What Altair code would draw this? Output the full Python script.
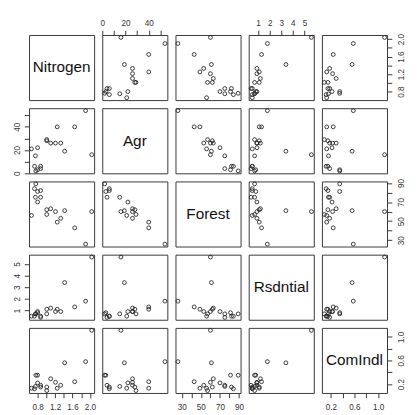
import altair as alt
import pandas as pd

# New York rivers (18 rivers)
rivers = ["Olean", "Cassadaga", "Oatka", "Wappinger", "Fishkill", "Honeoye",
          "Susquehanna", "Chenango", "Tioughnioga", "West Canada", "East Canada",
          "Saranac", "Ausable", "Black", "Schoharie", "Raquette", "Oswegatchie", "Cohocton"]
nitrogen = [1.10, 1.01, 1.90, 1.42, 2.04, 1.65, 1.01, 1.21, 1.33, 0.75, 0.73, 0.80, 0.76, 0.87, 0.80, 0.87, 0.66, 1.25]
agr = [26, 29, 54, 19, 16, 40, 28, 26, 26, 15, 6, 3, 2, 6, 22, 4, 21, 40]
forest = [63, 57, 26, 61, 60, 43, 62, 60, 53, 75, 84, 81, 89, 82, 70, 75, 56, 49]
rsdntial = [1.2, 0.7, 1.8, 3.4, 5.6, 1.3, 1.1, 0.9, 0.9, 0.7, 0.5, 0.8, 0.7, 0.5, 0.9, 0.4, 0.5, 1.1]
comindl = [0.29, 0.09, 0.58, 0.56, 1.11, 0.24, 0.15, 0.23, 0.18, 0.16, 0.12, 0.35, 0.35, 0.15, 0.22, 0.18, 0.13, 0.13]

variables = ["Nitrogen", "Agr", "Forest", "Rsdntial", "ComIndl"]

nitrogen_ticks = [0.8, 1.0, 1.2, 1.4, 1.6, 1.8, 2.0]
nitrogen_labels = ["0.8", "1.2", "1.6", "2.0"]
agr_ticks = [0, 10, 20, 30, 40, 50]
agr_labels = ["0", "20", "40"]
forest_ticks = [30, 40, 50, 60, 70, 80, 90]
forest_labels = ["30", "50", "70", "90"]
rsdntial_ticks = [1, 2, 3, 4, 5]
rsdntial_labels = ["1", "2", "3", "4", "5"]
comindl_ticks = [0.2, 0.4, 0.6, 0.8, 1.0]
comindl_labels = ["0.2", "0.6", "1.0"]

df = pd.DataFrame({"River": rivers, "Nitrogen": nitrogen, "Agr": agr, "Forest": forest,
                   "Rsdntial": rsdntial, "ComIndl": comindl})

ticks = {"Nitrogen": nitrogen_ticks, "Agr": agr_ticks, "Forest": forest_ticks,
         "Rsdntial": rsdntial_ticks, "ComIndl": comindl_ticks}
labels = {"Nitrogen": nitrogen_labels, "Agr": agr_labels, "Forest": forest_labels,
          "Rsdntial": rsdntial_labels, "ComIndl": comindl_labels}
fmts = {"Nitrogen": ".1f", "Agr": "d", "Forest": "d", "Rsdntial": "d", "ComIndl": ".1f"}


def domain(v):
    lo, hi = float(df[v].min()), float(df[v].max())
    r = hi - lo
    return [lo - 0.04 * r, hi + 0.04 * r]


P = 68
FONT = "Liberation Sans"


def make_axis(v, orient):
    lab_list = ",".join("'%s'" % s for s in labels[v])
    expr = "indexof([%s], datum.label) >= 0 ? datum.label : ''" % lab_list
    common = dict(orient=orient, values=ticks[v], format=fmts[v], labelExpr=expr,
                  domain=False, grid=False, ticks=True, tickSize=5, tickColor="#333",
                  tickWidth=1, labelFontSize=8.5, labelColor="#333", labelFont=FONT,
                  labelFlush=False, labelOverlap=False, title=None)
    if orient == "top":
        return alt.Axis(labelAngle=0, labelAlign="center", labelBaseline="bottom",
                        labelPadding=3, **common)
    if orient == "bottom":
        return alt.Axis(labelAngle=0, labelAlign="center", labelBaseline="top",
                        labelPadding=5, **common)
    if orient == "left":
        return alt.Axis(labelAngle=270, labelAlign="center", labelBaseline="bottom",
                        labelPadding=3, **common)
    return alt.Axis(labelAngle=270, labelAlign="center", labelBaseline="top",
                    labelPadding=5, **common)


panels = []
for i, yv in enumerate(variables):
    for j, xv in enumerate(variables):
        if i == 0 and j in (1, 3):
            xaxis = make_axis(xv, "top")
        elif i == 4 and j in (0, 2, 4):
            xaxis = make_axis(xv, "bottom")
        else:
            xaxis = None
        if j == 0 and i in (1, 3):
            yaxis = make_axis(yv, "left")
        elif j == 4 and i in (0, 2, 4):
            yaxis = make_axis(yv, "right")
        else:
            yaxis = None
        xenc = alt.X(xv, type="quantitative",
                     scale=alt.Scale(domain=domain(xv), nice=False, zero=False), axis=xaxis)
        yenc = alt.Y(yv, type="quantitative",
                     scale=alt.Scale(domain=domain(yv), nice=False, zero=False), axis=yaxis)
        if i == j:
            base = alt.Chart(df).mark_point(opacity=0).encode(x=xenc, y=yenc)
            lab = alt.Chart(pd.DataFrame({"name": [xv]})).mark_text(
                font=FONT, fontSize=16, color="#111", align="center", baseline="middle"
            ).encode(text="name:N", x=alt.value(P / 2), y=alt.value(P / 2))
            ch = alt.layer(base, lab).properties(width=P, height=P)
        else:
            ch = alt.Chart(df).mark_point(
                shape="circle", filled=False, size=16, strokeWidth=0.9, color="#222", opacity=1
            ).encode(x=xenc, y=yenc).properties(width=P, height=P)
        panels.append(ch)

chart = alt.concat(*panels, columns=5, spacing=8.5, bounds="flush").configure_view(
    stroke="#333", strokeWidth=1
).properties(
    padding={"left": 4, "top": 1, "right": 5, "bottom": 0},
    background="white"
)

chart.save("out.html", embed_options={"renderer": "svg", "actions": False})
